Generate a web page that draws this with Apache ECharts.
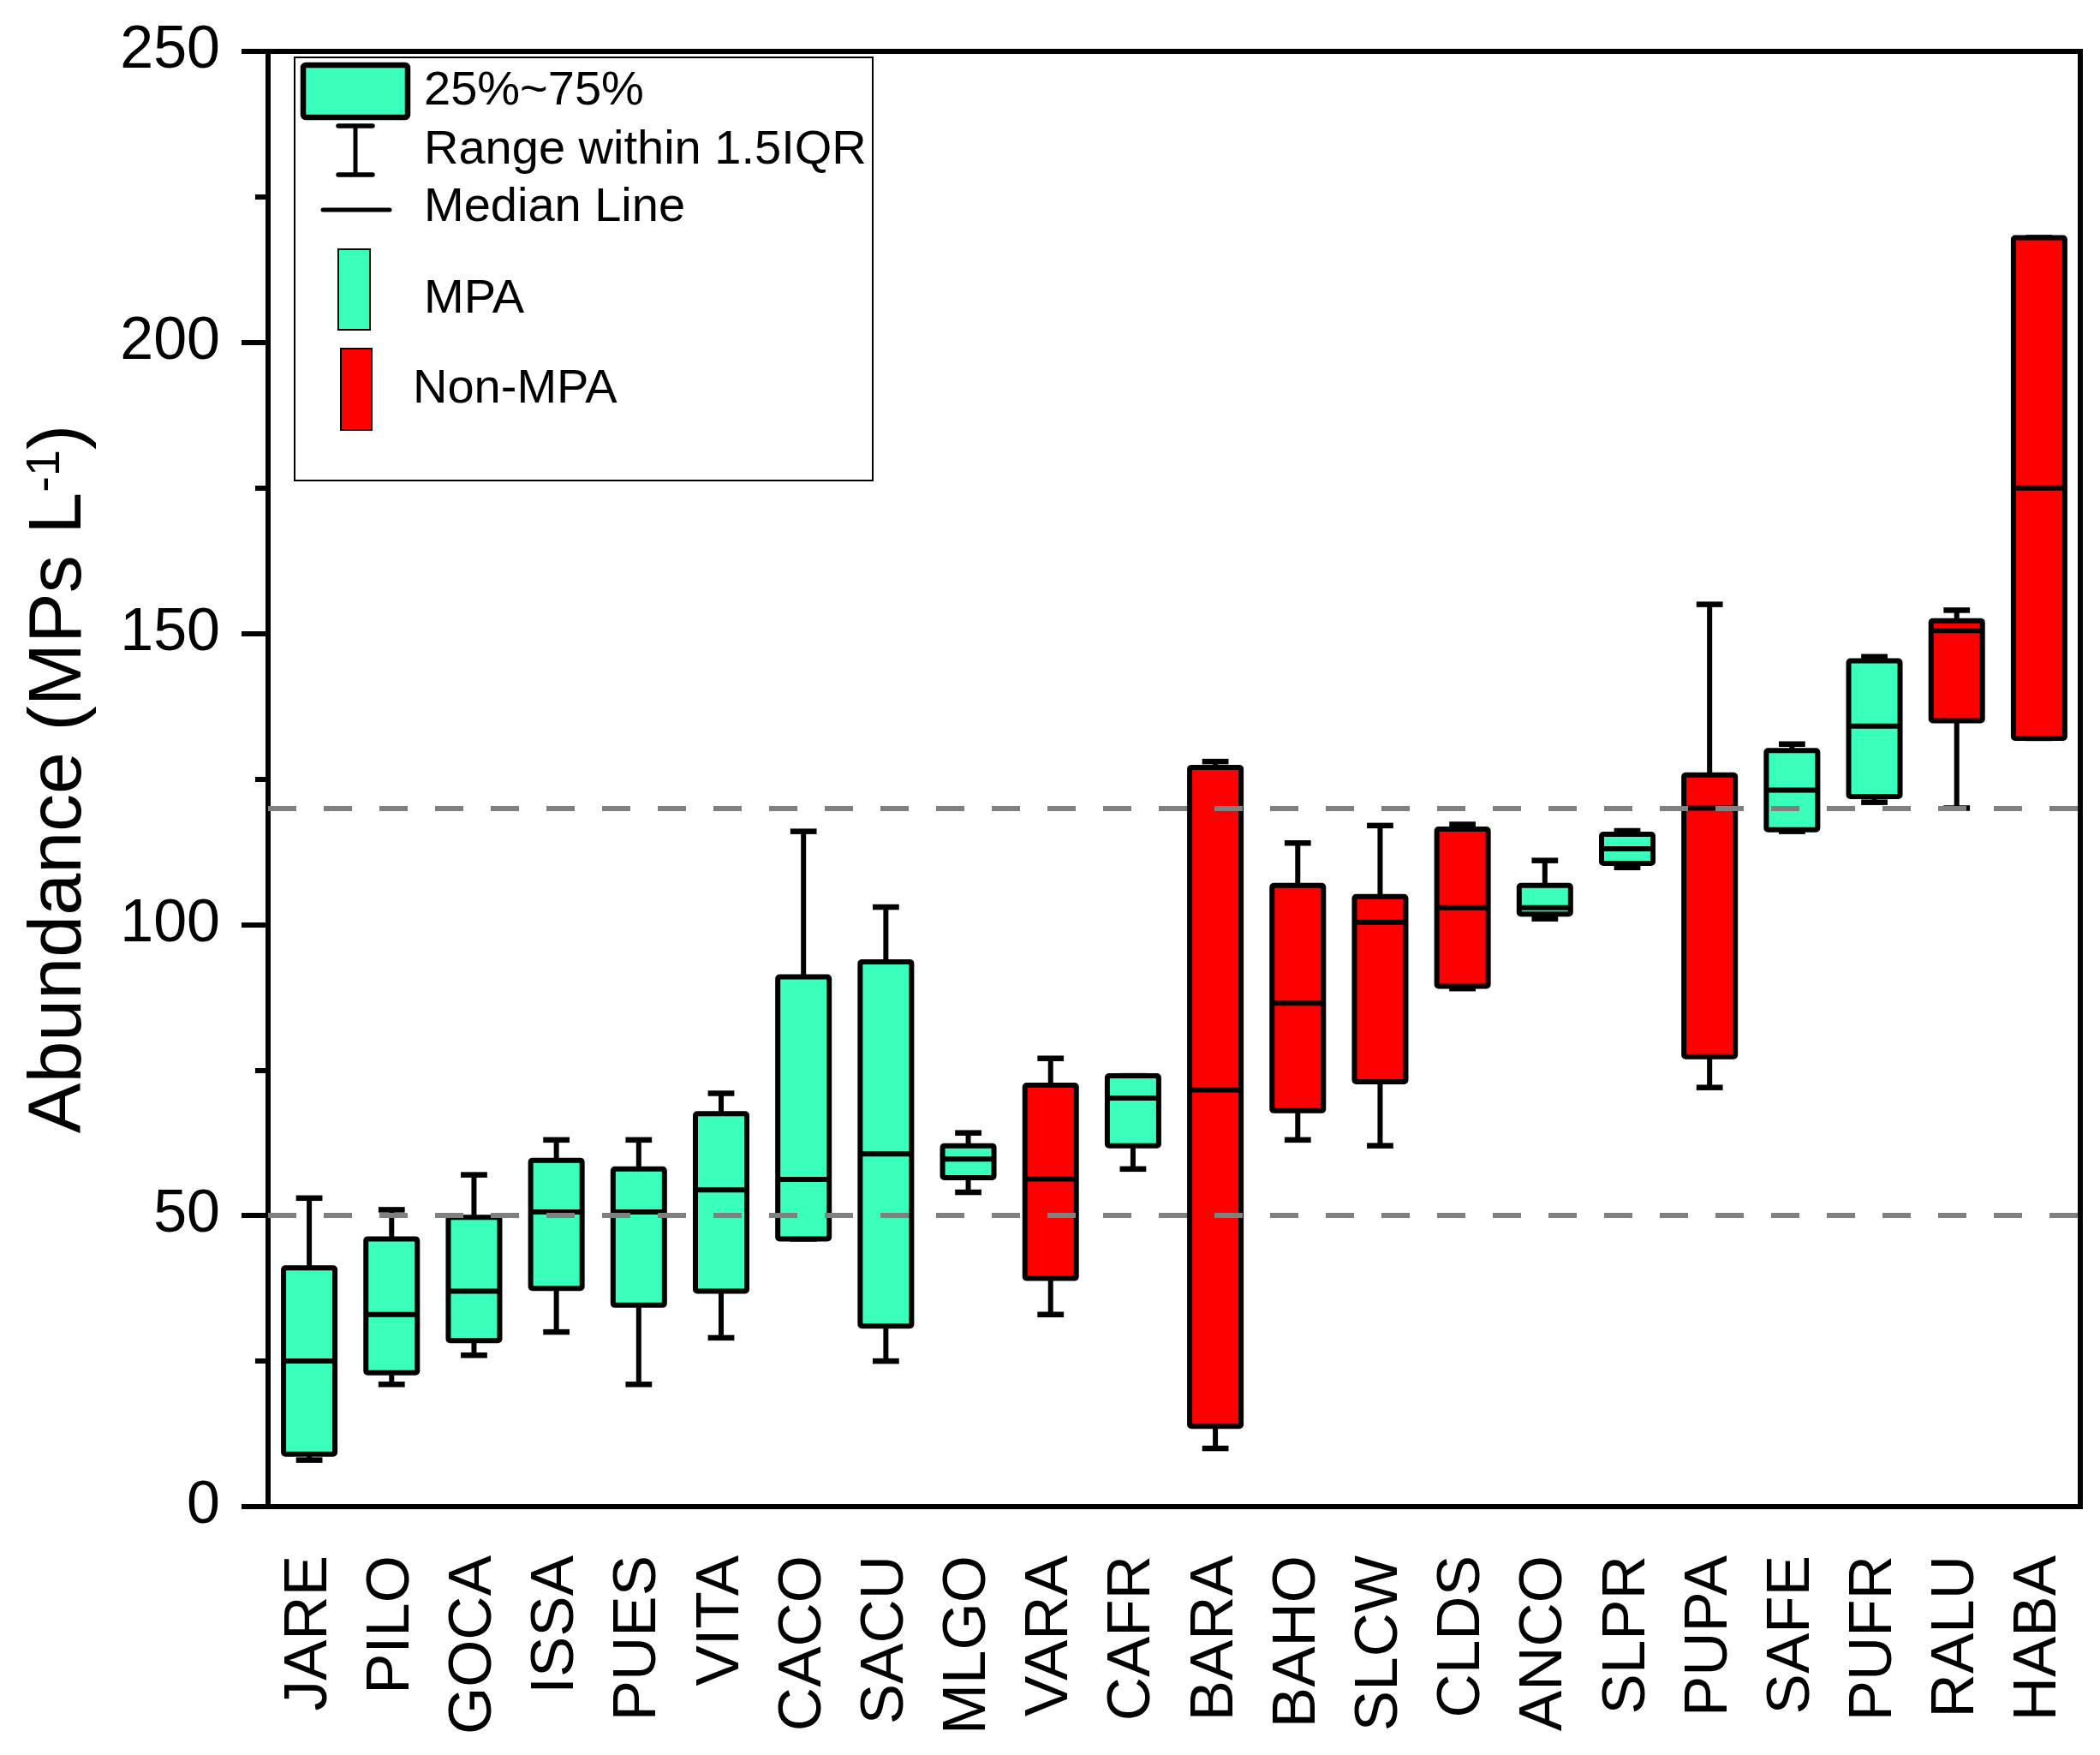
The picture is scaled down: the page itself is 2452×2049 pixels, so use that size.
<!DOCTYPE html>
<html>
<head>
<meta charset="utf-8">
<script src="https://cdn.jsdelivr.net/npm/echarts@6/dist/echarts.min.js"></script>
<style>
  html, body { margin: 0; padding: 0; background: #fff; }
  #chart { width: 2452px; height: 2049px; }
</style>
</head>
<body>
<div id="chart"></div>
<script>
// ---------------- data ----------------
const categories = ['JARE','PILO','GOCA','ISSA','PUES','VITA','CACO','SACU','MLGO','VARA','CAFR',
                    'BARA','BAHO','SLCW','CLDS','ANCO','SLPR','PUPA','SAFE','PUFR','RALU','HABA'];
const siteGroup = ['MPA','MPA','MPA','MPA','MPA','MPA','MPA','MPA','MPA','Non-MPA','MPA',
                   'Non-MPA','Non-MPA','Non-MPA','Non-MPA','MPA','MPA','Non-MPA','MPA','MPA','Non-MPA','Non-MPA'];
const whiskerLow  = [8,   21,  26,   30,   21,   29,   46,   25,   54,   33,   58,   10,   63,   62,   89,    101,   109.8, 72,   116,   121,   120,   132];
const q1          = [9,   23,  28.5, 37.5, 34.6, 37,   46,   31,   56.5, 39.2, 62,   13.8, 68,   73,   89.4,  101.8, 110.5, 77.3, 116.3, 122,   135,   132];
const median      = [25,  33,  37,   50.6, 50.6, 54.4, 56.2, 60.6, 59.7, 56.3, 70.2, 71.6, 86.5, 100.4,102.9, 102.9, 113,   120,  123.1, 134.1, 150.5, 175];
const q3          = [41,  46,  49.7, 59.5, 58,   67.5, 91,   93.6, 62,   72.4, 74,   127,  106.7,104.8,116.4, 106.7, 115.5, 125.7,129.9, 145.3, 152.2, 218];
const whiskerHigh = [53,  51,  57,   63,   63,   71,   116,  103,  64.2, 77,   74,   128,  114,  117,  117.2, 111,   116.1, 155,  131,   146,   154,   218];
const referenceLines = [50, 120];
const yTicks = { min: 0, max: 250, interval: 50 };
const legendLabels = ['25%~75%', 'Range within 1.5IQR', 'Median Line', 'MPA', 'Non-MPA'];

// ---------------- styling ----------------
const MPA_COLOR = '#38FFBA';
const NON_COLOR = '#FF0000';
const FONT = '"Liberation Sans", Arial, sans-serif';

const boxData = categories.map((c, i) => [c, whiskerLow[i], q1[i], median[i], q3[i], whiskerHigh[i]]);

function renderItem(params, api) {
  const i = api.value(0);
  const pLo  = api.coord([i, api.value(1)]);
  const pQ1  = api.coord([i, api.value(2)]);
  const pMed = api.coord([i, api.value(3)]);
  const pQ3  = api.coord([i, api.value(4)]);
  const pHi  = api.coord([i, api.value(5)]);
  const band = api.size([1, 0])[0];
  const half = band * 0.312;
  const cap = band * 0.16;
  const x = pMed[0];
  const fill = siteGroup[params.dataIndex] === 'MPA' ? MPA_COLOR : NON_COLOR;
  const ls = { stroke: '#000', lineWidth: 6 };
  const cs = { stroke: '#000', lineWidth: 6.5 };
  return {
    type: 'group',
    children: [
      { type: 'line', shape: { x1: x, y1: pQ3[1], x2: x, y2: pHi[1] }, style: ls },
      { type: 'line', shape: { x1: x, y1: pQ1[1], x2: x, y2: pLo[1] }, style: ls },
      { type: 'line', shape: { x1: x - cap, y1: pHi[1], x2: x + cap, y2: pHi[1] }, style: cs },
      { type: 'line', shape: { x1: x - cap, y1: pLo[1], x2: x + cap, y2: pLo[1] }, style: cs },
      { type: 'rect', shape: { x: x - half, y: pQ3[1], width: 2 * half, height: pQ1[1] - pQ3[1], r: 2 },
        style: { fill: fill, stroke: '#000', lineWidth: 6, lineJoin: 'round' } },
      { type: 'line', shape: { x1: x - half, y1: pMed[1], x2: x + half, y2: pMed[1] },
        style: { stroke: '#000', lineWidth: 6 } }
    ]
  };
}

const legendFont = { fontSize: 56, fontFamily: FONT, fill: '#000' };

const option = {
  animation: false,
  backgroundColor: '#fff',
  grid: {
    left: 313, right: 23, top: 60, bottom: 290,
    show: true, borderColor: '#000', borderWidth: 6, backgroundColor: 'transparent'
  },
  xAxis: {
    type: 'category',
    data: categories,
    axisLine: { lineStyle: { color: '#000', width: 6 } },
    axisTick: { alignWithLabel: true, length: 31, lineStyle: { color: '#000', width: 6 } },
    axisLabel: { rotate: 90, margin: 57, fontSize: 71, color: '#000', fontFamily: FONT },
    splitLine: { show: false }
  },
  yAxis: {
    type: 'value',
    min: yTicks.min, max: yTicks.max, interval: yTicks.interval,
    name: 'Abundance (MPs L{sup|-1})',
    nameLocation: 'middle',
    nameGap: 199,
    nameTextStyle: {
      fontSize: 88, color: '#000', fontFamily: FONT,
      rich: { sup: { fontSize: 56, lineHeight: 30, verticalAlign: 'top', color: '#000', fontFamily: FONT } }
    },
    axisLine: { show: true, lineStyle: { color: '#000', width: 6 } },
    axisTick: { show: true, length: 31, lineStyle: { color: '#000', width: 6 } },
    minorTick: { show: true, splitNumber: 2, length: 15, lineStyle: { color: '#000', width: 6 } },
    axisLabel: { margin: 56, fontSize: 70, color: '#000', fontFamily: FONT },
    splitLine: { show: false }
  },
  series: [
    {
      type: 'custom',
      renderItem: renderItem,
      data: boxData,
      encode: { x: 0, y: [1, 2, 3, 4, 5] },
      z: 2
    },
    {
      type: 'line',
      data: [],
      z: 5,
      silent: true,
      markLine: {
        silent: true,
        symbol: 'none',
        label: { show: false },
        lineStyle: { color: '#808080', width: 6, type: [33, 32] },
        data: referenceLines.map(v => ({ yAxis: v }))
      }
    }
  ],
  graphic: [
    { type: 'rect', shape: { x: 344, y: 67, width: 675, height: 494 },
      style: { fill: '#fff', stroke: '#000', lineWidth: 2 }, z: 10 },
    { type: 'rect', shape: { x: 354, y: 76, width: 122, height: 61, r: 3 },
      style: { fill: MPA_COLOR, stroke: '#000', lineWidth: 6.5 }, z: 11 },
    { type: 'text', x: 495, y: 107, style: Object.assign({ text: legendLabels[0], verticalAlign: 'middle' }, legendFont), z: 11 },
    { type: 'line', shape: { x1: 415, y1: 147, x2: 415, y2: 204 }, style: { stroke: '#000', lineWidth: 5 }, z: 11 },
    { type: 'line', shape: { x1: 395, y1: 147, x2: 435, y2: 147 }, style: { stroke: '#000', lineWidth: 5.5, lineCap: 'round' }, z: 11 },
    { type: 'line', shape: { x1: 395, y1: 204, x2: 435, y2: 204 }, style: { stroke: '#000', lineWidth: 5.5, lineCap: 'round' }, z: 11 },
    { type: 'text', x: 495, y: 176, style: Object.assign({ text: legendLabels[1], verticalAlign: 'middle' }, legendFont), z: 11 },
    { type: 'line', shape: { x1: 377, y1: 245, x2: 455, y2: 245 }, style: { stroke: '#000', lineWidth: 5, lineCap: 'round' }, z: 11 },
    { type: 'text', x: 495, y: 243, style: Object.assign({ text: legendLabels[2], verticalAlign: 'middle' }, legendFont), z: 11 },
    { type: 'rect', shape: { x: 395, y: 291, width: 37, height: 94 },
      style: { fill: MPA_COLOR, stroke: '#000', lineWidth: 2 }, z: 11 },
    { type: 'text', x: 495, y: 350, style: Object.assign({ text: legendLabels[3], verticalAlign: 'middle' }, legendFont), z: 11 },
    { type: 'rect', shape: { x: 398, y: 407, width: 36, height: 95 },
      style: { fill: NON_COLOR, stroke: '#000', lineWidth: 2 }, z: 11 },
    { type: 'text', x: 482, y: 455, style: Object.assign({ text: legendLabels[4], verticalAlign: 'middle' }, legendFont), z: 11 }
  ]
};

const chart = echarts.init(document.getElementById('chart'), null, { renderer: 'canvas' });
chart.setOption(option);
</script>
</body>
</html>
